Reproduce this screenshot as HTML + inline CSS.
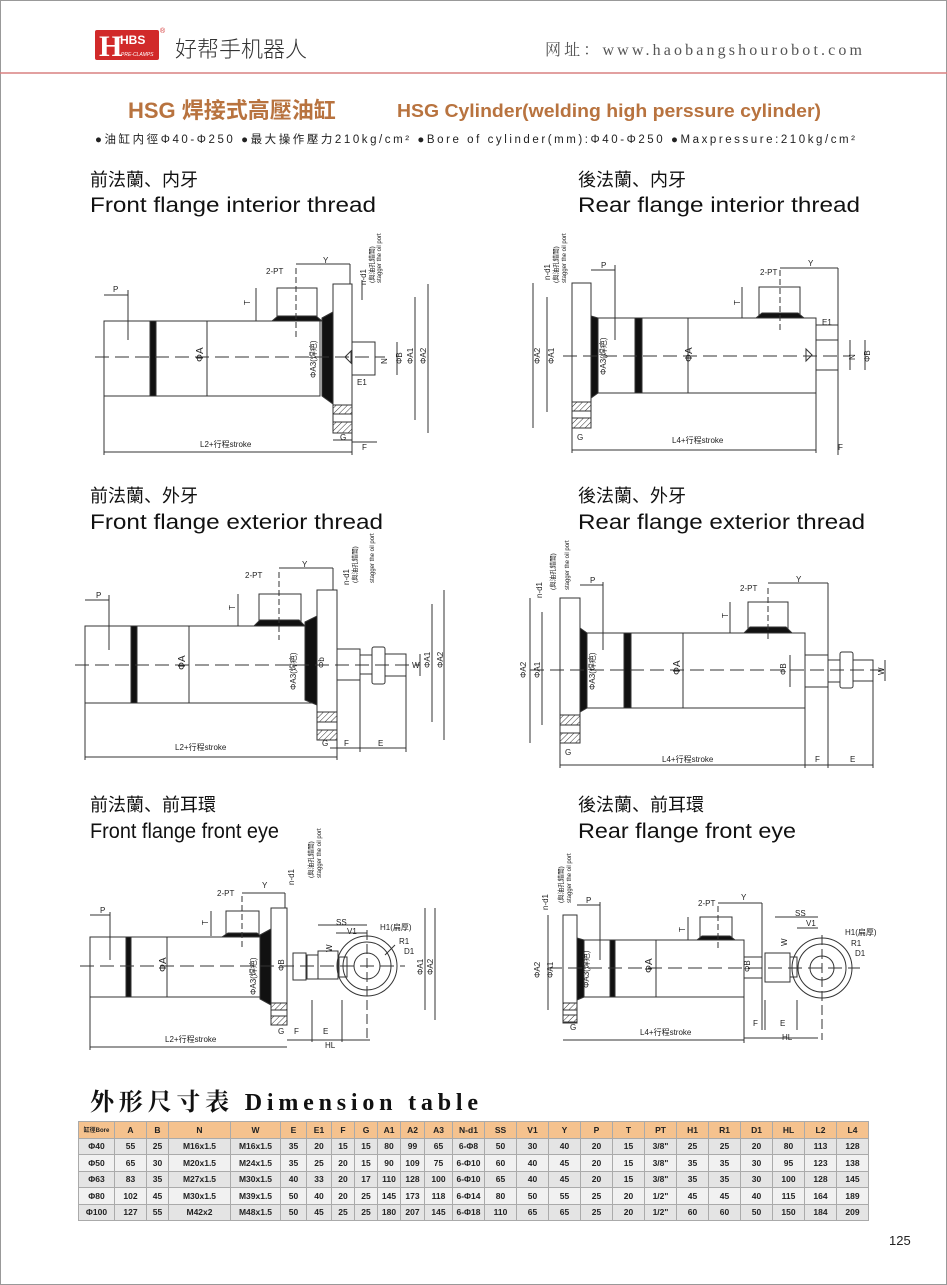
<!DOCTYPE html>
<html><head><meta charset="utf-8"><style>
html,body{margin:0;padding:0;background:#fff;}
body{width:947px;height:1285px;position:relative;overflow:hidden;font-family:"Liberation Sans","Noto Sans CJK SC",sans-serif;}
.frame{position:absolute;left:0;top:0;width:945px;height:1283px;border:1px solid #999;}
svg{position:absolute;left:0;top:0;}
table{position:absolute;left:78px;top:1121px;width:790px;border-collapse:collapse;table-layout:fixed;font-family:"Liberation Sans","Noto Sans CJK SC",sans-serif;font-weight:bold;font-size:8.5px;color:#222;}
td{border:1px solid #aaa;height:15.5px;padding:0;text-align:center;white-space:nowrap;overflow:hidden;}
tr.h td{background:#f5c28e;}
tr.a td{background:#e4e4e4;}
tr.b td{background:#f1f1f1;}
</style></head><body>
<div class="frame"></div>
<svg width="947" height="1285" viewBox="0 0 947 1285" xmlns="http://www.w3.org/2000/svg" font-family="Liberation Sans, Noto Sans CJK SC, sans-serif">
<defs>
<pattern id="ht" width="4" height="4" patternUnits="userSpaceOnUse" patternTransform="rotate(45)"><line x1="0" y1="0" x2="0" y2="4" stroke="#333" stroke-width="1"/></pattern>
</defs>
<!-- header -->
<rect x="95" y="30" width="64" height="30" fill="#d12a2a" rx="2"/>
<text x="99" y="56" font-family="Liberation Serif, serif" font-weight="bold" font-size="30" fill="#fff">H</text>
<text x="120" y="44" font-weight="bold" font-size="12" fill="#fff">HBS</text>
<text x="121" y="56" font-size="5" fill="#fff" font-style="italic">PRE-CLAMPS</text>
<text x="160" y="33" font-size="7" fill="#d12a2a">®</text>
<text x="175" y="57" font-size="22" fill="#333" font-family="Noto Sans CJK SC, sans-serif" font-weight="300">好帮手机器人</text>
<text x="545" y="55" font-size="16" fill="#555" font-family="Liberation Serif, Noto Serif CJK SC, serif" textLength="317" lengthAdjust="spacing">网址：www.haobangshourobot.com</text>
<line x1="0" y1="73" x2="947" y2="73" stroke="#d98080" stroke-width="1.5"/>
<text x="128" y="118" font-size="22" font-weight="bold" fill="#b8733f" font-family="Liberation Sans, Noto Sans CJK SC, sans-serif">HSG 焊接式高壓油缸</text>
<text x="397" y="117" font-size="18" font-weight="bold" fill="#b8733f" textLength="424" lengthAdjust="spacingAndGlyphs">HSG Cylinder(welding high perssure cylinder)</text>
<text x="95" y="143" font-size="11.5" fill="#222" textLength="760" lengthAdjust="spacing">●油缸内徑Φ40-Φ250  ●最大操作壓力210kg/cm²   ●Bore of cylinder(mm):Φ40-Φ250  ●Maxpressure:210kg/cm²</text>
<!-- section titles -->
<g fill="#111">
<text x="90" y="186" font-size="18">前法蘭、内牙</text>
<text x="90" y="212" font-size="21" textLength="286" lengthAdjust="spacingAndGlyphs">Front flange interior thread</text>
<text x="578" y="186" font-size="18">後法蘭、内牙</text>
<text x="578" y="212" font-size="21" textLength="282" lengthAdjust="spacingAndGlyphs">Rear flange interior thread</text>
<text x="90" y="502" font-size="18">前法蘭、外牙</text>
<text x="90" y="529" font-size="21" textLength="293" lengthAdjust="spacingAndGlyphs">Front flange exterior thread</text>
<text x="578" y="502" font-size="18">後法蘭、外牙</text>
<text x="578" y="529" font-size="21" textLength="287" lengthAdjust="spacingAndGlyphs">Rear flange exterior thread</text>
<text x="90" y="811" font-size="18">前法蘭、前耳環</text>
<text x="90" y="838" font-size="21" textLength="189" lengthAdjust="spacingAndGlyphs">Front flange front eye</text>
<text x="578" y="811" font-size="18">後法蘭、前耳環</text>
<text x="578" y="838" font-size="21" textLength="218" lengthAdjust="spacingAndGlyphs">Rear flange front eye</text>
</g>

<g stroke="#333" stroke-width="1" fill="none">
<!-- D1 front interior -->
<rect x="104" y="321" width="216" height="75"/>
<rect x="150" y="321" width="6" height="75" fill="#111"/>
<rect x="277" y="288" width="40" height="33"/>
<polygon points="272,321 322,321 316,316 278,316" fill="#111"/>
<polygon points="322,318 333,312 333,404 322,396" fill="#111"/>
<rect x="333" y="284" width="19" height="149"/>
<rect x="333" y="405" width="19" height="9" fill="url(#ht)"/>
<rect x="333" y="422" width="19" height="11" fill="url(#ht)"/>
<rect x="352" y="342" width="23" height="33"/>
<path d="M345 357 l6 -6 v12z"/>
<line x1="95" y1="357" x2="385" y2="357" stroke-dasharray="14,6"/>
<line x1="104" y1="452" x2="352" y2="452"/><line x1="104" y1="396" x2="104" y2="455"/><line x1="352" y1="433" x2="352" y2="455"/>
<line x1="207" y1="321" x2="207" y2="396"/>
<line x1="397" y1="342" x2="397" y2="375"/><line x1="415" y1="297" x2="415" y2="420"/><line x1="428" y1="284" x2="428" y2="433"/>
<line x1="352" y1="442" x2="377" y2="442"/><line x1="333" y1="440" x2="352" y2="440"/>
<line x1="104" y1="295" x2="128" y2="295"/><line x1="128" y1="290" x2="128" y2="340"/>
<line x1="256" y1="288" x2="256" y2="321"/>
<line x1="296" y1="268" x2="296" y2="340" stroke-dasharray="6,3"/>
<line x1="296" y1="264" x2="350" y2="264"/><line x1="350" y1="264" x2="350" y2="284"/>
<line x1="362" y1="280" x2="362" y2="300"/>
<!-- D2 rear interior -->
<rect x="572" y="283" width="19" height="145"/>
<rect x="572" y="402" width="19" height="9" fill="url(#ht)"/>
<rect x="572" y="418" width="19" height="10" fill="url(#ht)"/>
<polygon points="591,316 598,318 598,393 591,398" fill="#111"/>
<rect x="598" y="318" width="218" height="75"/>
<rect x="635" y="318" width="7" height="75" fill="#111"/>
<rect x="759" y="287" width="41" height="31"/>
<polygon points="756,318 804,318 798,313 762,313" fill="#111"/>
<rect x="816" y="340" width="22" height="30"/>
<path d="M812 355 l-6 -6 v12z"/>
<line x1="563" y1="356" x2="850" y2="356" stroke-dasharray="14,6"/>
<line x1="572" y1="450" x2="816" y2="450"/><line x1="816" y1="393" x2="816" y2="453"/><line x1="572" y1="428" x2="572" y2="453"/>
<line x1="533" y1="283" x2="533" y2="428"/><line x1="547" y1="297" x2="547" y2="412"/>
<line x1="688" y1="318" x2="688" y2="393"/>
<line x1="850" y1="340" x2="850" y2="370"/><line x1="865" y1="340" x2="865" y2="370"/>
<line x1="591" y1="270" x2="615" y2="270"/><line x1="615" y1="265" x2="615" y2="340"/>
<line x1="780" y1="268" x2="838" y2="268"/><line x1="838" y1="268" x2="838" y2="455"/>
<line x1="742" y1="287" x2="742" y2="318"/>
<line x1="780" y1="270" x2="780" y2="330" stroke-dasharray="6,3"/>
<line x1="816" y1="325" x2="838" y2="325"/>
<!-- D3 front exterior -->
<rect x="85" y="626" width="231" height="77"/>
<rect x="131" y="626" width="6" height="77" fill="#111"/>
<rect x="259" y="594" width="42" height="31"/>
<polygon points="254,626 305,626 299,620 260,620" fill="#111"/>
<polygon points="305,622 317,616 317,705 305,700" fill="#111"/>
<rect x="317" y="590" width="20" height="150"/>
<rect x="317" y="712" width="20" height="10" fill="url(#ht)"/>
<rect x="317" y="730" width="20" height="10" fill="url(#ht)"/>
<rect x="337" y="649" width="23" height="31"/>
<line x1="360" y1="655" x2="372" y2="655"/><line x1="360" y1="674" x2="372" y2="674"/>
<rect x="372" y="647" width="13" height="37" rx="2"/>
<rect x="385" y="654" width="21" height="22"/>
<line x1="75" y1="665" x2="420" y2="665" stroke-dasharray="14,6"/>
<line x1="85" y1="757" x2="337" y2="757"/><line x1="85" y1="703" x2="85" y2="760"/><line x1="337" y1="740" x2="337" y2="760"/>
<line x1="189" y1="626" x2="189" y2="703"/>
<line x1="330" y1="748" x2="406" y2="748"/><line x1="406" y1="676" x2="406" y2="752"/><line x1="360" y1="680" x2="360" y2="752"/>
<line x1="420" y1="654" x2="420" y2="676"/><line x1="432" y1="604" x2="432" y2="722"/><line x1="444" y1="590" x2="444" y2="740"/>
<line x1="85" y1="600" x2="109" y2="600"/><line x1="109" y1="595" x2="109" y2="650"/>
<line x1="238" y1="594" x2="238" y2="626"/>
<line x1="279" y1="568" x2="333" y2="568"/><line x1="333" y1="568" x2="333" y2="590"/>
<line x1="279" y1="572" x2="279" y2="640" stroke-dasharray="6,3"/>
<!-- D4 rear exterior -->
<rect x="560" y="598" width="20" height="145"/>
<rect x="560" y="715" width="20" height="10" fill="url(#ht)"/>
<rect x="560" y="733" width="20" height="10" fill="url(#ht)"/>
<polygon points="580,628 587,633 587,708 580,712" fill="#111"/>
<rect x="587" y="633" width="218" height="75"/>
<rect x="624" y="633" width="7" height="75" fill="#111"/>
<rect x="748" y="602" width="40" height="31"/>
<polygon points="744,633 792,633 786,627 750,627" fill="#111"/>
<rect x="805" y="655" width="23" height="32"/>
<line x1="828" y1="660" x2="840" y2="660"/><line x1="828" y1="682" x2="840" y2="682"/>
<rect x="840" y="652" width="13" height="36" rx="2"/>
<rect x="853" y="660" width="20" height="21"/>
<line x1="530" y1="670" x2="885" y2="670" stroke-dasharray="14,6"/>
<line x1="560" y1="765" x2="805" y2="765"/><line x1="805" y1="708" x2="805" y2="768"/><line x1="560" y1="743" x2="560" y2="768"/>
<line x1="805" y1="765" x2="873" y2="765"/><line x1="828" y1="687" x2="828" y2="768"/><line x1="873" y1="681" x2="873" y2="768"/>
<line x1="530" y1="598" x2="530" y2="743"/><line x1="542" y1="612" x2="542" y2="725"/>
<line x1="683" y1="633" x2="683" y2="708"/><line x1="790" y1="655" x2="790" y2="687"/>
<line x1="885" y1="660" x2="885" y2="681"/>
<line x1="580" y1="585" x2="603" y2="585"/><line x1="603" y1="582" x2="603" y2="650"/>
<line x1="768" y1="583" x2="828" y2="583"/><line x1="828" y1="583" x2="828" y2="660"/>
<line x1="730" y1="602" x2="730" y2="633"/>
<line x1="768" y1="588" x2="768" y2="640" stroke-dasharray="6,3"/>
<!-- D5 front eye -->
<rect x="90" y="937" width="170" height="60"/>
<rect x="126" y="937" width="5" height="60" fill="#111"/>
<rect x="226" y="911" width="33" height="25"/>
<polygon points="222,937 262,937 257,933 228,933" fill="#111"/>
<polygon points="260,935 271,929 271,1005 260,999" fill="#111"/>
<rect x="271" y="908" width="16" height="117"/>
<rect x="271" y="1003" width="16" height="7" fill="url(#ht)"/>
<rect x="271" y="1016" width="16" height="9" fill="url(#ht)"/>
<rect x="293" y="953" width="13" height="27"/>
<rect x="307" y="955" width="11" height="24"/>
<rect x="318" y="951" width="20" height="28"/>
<rect x="339" y="957" width="8" height="20"/>
<circle cx="367" cy="966" r="30"/><circle cx="367" cy="966" r="24"/><circle cx="367" cy="966" r="13"/>
<line x1="80" y1="966" x2="405" y2="966" stroke-dasharray="14,6"/>
<line x1="367" y1="930" x2="367" y2="1040" stroke-dasharray="10,4"/>
<line x1="90" y1="1047" x2="287" y2="1047"/><line x1="90" y1="997" x2="90" y2="1050"/>
<line x1="287" y1="1040" x2="370" y2="1040"/><line x1="312" y1="1000" x2="312" y2="1042"/><line x1="342" y1="1000" x2="342" y2="1042"/>
<line x1="167" y1="937" x2="167" y2="997"/>
<line x1="425" y1="908" x2="425" y2="1010"/><line x1="435" y1="908" x2="435" y2="1020"/>
<line x1="318" y1="925" x2="367" y2="925"/><line x1="336" y1="933" x2="367" y2="933"/>
<line x1="90" y1="915" x2="110" y2="915"/><line x1="110" y1="912" x2="110" y2="960"/>
<line x1="211" y1="911" x2="211" y2="936"/>
<line x1="242" y1="893" x2="285" y2="893"/><line x1="285" y1="893" x2="285" y2="908"/>
<line x1="242" y1="896" x2="242" y2="950" stroke-dasharray="6,3"/>
<line x1="395" y1="945" x2="385" y2="955"/>
<!-- D6 rear eye -->
<rect x="563" y="915" width="14" height="107"/>
<rect x="563" y="1003" width="14" height="7" fill="url(#ht)"/>
<rect x="563" y="1015" width="14" height="8" fill="url(#ht)"/>
<polygon points="577,938 584,940 584,997 577,1000" fill="#111"/>
<rect x="584" y="940" width="160" height="57"/>
<rect x="610" y="940" width="5" height="57" fill="#111"/>
<rect x="700" y="917" width="32" height="23"/>
<polygon points="697,940 735,940 730,936 702,936" fill="#111"/>
<rect x="744" y="957" width="18" height="21"/>
<rect x="765" y="953" width="25" height="29"/>
<rect x="790" y="957" width="7" height="20"/>
<circle cx="822" cy="968" r="30"/><circle cx="822" cy="968" r="24"/><circle cx="822" cy="968" r="12"/>
<line x1="548" y1="968" x2="860" y2="968" stroke-dasharray="14,6"/>
<line x1="822" y1="935" x2="822" y2="1040" stroke-dasharray="10,4"/>
<line x1="563" y1="1040" x2="744" y2="1040"/><line x1="744" y1="997" x2="744" y2="1043"/>
<line x1="744" y1="1038" x2="818" y2="1038"/><line x1="765" y1="1000" x2="765" y2="1030"/><line x1="797" y1="1000" x2="797" y2="1030"/>
<line x1="548" y1="915" x2="548" y2="1010"/>
<line x1="656" y1="940" x2="656" y2="997"/>
<line x1="775" y1="917" x2="818" y2="917"/><line x1="797" y1="928" x2="818" y2="928"/>
<line x1="577" y1="905" x2="600" y2="905"/><line x1="600" y1="902" x2="600" y2="960"/>
<line x1="718" y1="903" x2="762" y2="903"/><line x1="762" y1="903" x2="762" y2="1030"/>
<line x1="688" y1="917" x2="688" y2="940"/>
<line x1="718" y1="906" x2="718" y2="950" stroke-dasharray="6,3"/>
</g>

<g font-size="8" fill="#222">
<!-- D1 labels -->
<text x="113" y="292">P</text><text x="250" y="305" transform="rotate(-90 250 305)">T</text>
<text x="266" y="274">2-PT</text><text x="323" y="263">Y</text>
<text x="203" y="362" font-size="10" transform="rotate(-90 203 362)">ΦA</text>
<text x="316" y="378" transform="rotate(-90 316 378)">ΦA3(焊疤)</text>
<text x="387" y="364" transform="rotate(-90 387 364)">N</text><text x="402" y="364" transform="rotate(-90 402 364)">ΦB</text>
<text x="413" y="364" transform="rotate(-90 413 364)">ΦA1</text><text x="426" y="364" transform="rotate(-90 426 364)">ΦA2</text>
<text x="357" y="385">E1</text><text x="340" y="440">G</text><text x="362" y="450">F</text>
<text x="200" y="447">L2+行程stroke</text>
<text x="366" y="285" transform="rotate(-90 366 285)">n-d1</text>
<text x="374" y="283" font-size="6.5" transform="rotate(-90 374 283)">(與油孔錯開)</text>
<text x="381" y="283" font-size="6" transform="rotate(-90 381 283)">stagger the oil port</text>
<!-- D2 -->
<text x="601" y="268">P</text><text x="740" y="305" transform="rotate(-90 740 305)">T</text>
<text x="760" y="275">2-PT</text><text x="808" y="266">Y</text><text x="822" y="325">E1</text>
<text x="540" y="364" transform="rotate(-90 540 364)">ΦA2</text><text x="554" y="364" transform="rotate(-90 554 364)">ΦA1</text>
<text x="606" y="375" transform="rotate(-90 606 375)">ΦA3(焊疤)</text>
<text x="692" y="362" font-size="10" transform="rotate(-90 692 362)">ΦA</text>
<text x="855" y="360" transform="rotate(-90 855 360)">N</text><text x="870" y="362" transform="rotate(-90 870 362)">ΦB</text>
<text x="577" y="440">G</text><text x="838" y="450">F</text><text x="672" y="443">L4+行程stroke</text>
<text x="550" y="280" transform="rotate(-90 550 280)">n-d1</text>
<text x="558" y="283" font-size="6.5" transform="rotate(-90 558 283)">(與油孔錯開)</text>
<text x="566" y="283" font-size="6" transform="rotate(-90 566 283)">stagger the oil port</text>
<!-- D3 -->
<text x="96" y="598">P</text><text x="235" y="610" transform="rotate(-90 235 610)">T</text>
<text x="245" y="578">2-PT</text><text x="302" y="567">Y</text>
<text x="185" y="670" font-size="10" transform="rotate(-90 185 670)">ΦA</text>
<text x="296" y="690" transform="rotate(-90 296 690)">ΦA3(焊疤)</text>
<text x="324" y="668" transform="rotate(-90 324 668)">Φb</text>
<text x="412" y="668">W</text><text x="430" y="668" transform="rotate(-90 430 668)">ΦA1</text><text x="443" y="668" transform="rotate(-90 443 668)">ΦA2</text>
<text x="322" y="746">G</text><text x="344" y="746">F</text><text x="378" y="746">E</text>
<text x="175" y="750">L2+行程stroke</text>
<text x="349" y="585" transform="rotate(-90 349 585)">n-d1</text>
<text x="357" y="583" font-size="6.5" transform="rotate(-90 357 583)">(與油孔錯開)</text>
<text x="374" y="583" font-size="6" transform="rotate(-90 374 583)">stagger the oil port</text>
<!-- D4 -->
<text x="590" y="583">P</text><text x="728" y="618" transform="rotate(-90 728 618)">T</text>
<text x="740" y="591">2-PT</text><text x="796" y="582">Y</text>
<text x="526" y="678" transform="rotate(-90 526 678)">ΦA2</text><text x="540" y="678" transform="rotate(-90 540 678)">ΦA1</text>
<text x="595" y="690" transform="rotate(-90 595 690)">ΦA3(焊疤)</text>
<text x="680" y="675" font-size="10" transform="rotate(-90 680 675)">ΦA</text>
<text x="786" y="675" transform="rotate(-90 786 675)">ΦB</text><text x="884" y="675" transform="rotate(-90 884 675)">W</text>
<text x="565" y="755">G</text><text x="815" y="762">F</text><text x="850" y="762">E</text>
<text x="662" y="762">L4+行程stroke</text>
<text x="542" y="598" transform="rotate(-90 542 598)">n-d1</text>
<text x="555" y="590" font-size="6.5" transform="rotate(-90 555 590)">(與油孔錯開)</text>
<text x="569" y="590" font-size="6" transform="rotate(-90 569 590)">stagger the oil port</text>
<!-- D5 -->
<text x="100" y="913">P</text><text x="208" y="925" transform="rotate(-90 208 925)">T</text>
<text x="217" y="896">2-PT</text><text x="262" y="888">Y</text>
<text x="166" y="972" font-size="10" transform="rotate(-90 166 972)">ΦA</text>
<text x="256" y="995" transform="rotate(-90 256 995)">ΦA3(焊疤)</text>
<text x="284" y="971" transform="rotate(-90 284 971)">ΦB</text>
<text x="332" y="952" transform="rotate(-90 332 952)">W</text>
<text x="336" y="925">SS</text><text x="347" y="934">V1</text>
<text x="380" y="930">H1(扁厚)</text><text x="399" y="944">R1</text><text x="404" y="954">D1</text>
<text x="423" y="975" transform="rotate(-90 423 975)">ΦA1</text><text x="433" y="975" transform="rotate(-90 433 975)">ΦA2</text>
<text x="278" y="1034">G</text><text x="294" y="1034">F</text><text x="323" y="1034">E</text><text x="325" y="1048">HL</text>
<text x="165" y="1042">L2+行程stroke</text>
<text x="294" y="885" transform="rotate(-90 294 885)">n-d1</text>
<text x="313" y="878" font-size="6.5" transform="rotate(-90 313 878)">(與油孔錯開)</text>
<text x="321" y="878" font-size="6" transform="rotate(-90 321 878)">stagger the oil port</text>
<!-- D6 -->
<text x="586" y="903">P</text><text x="685" y="932" transform="rotate(-90 685 932)">T</text>
<text x="698" y="906">2-PT</text><text x="741" y="900">Y</text>
<text x="553" y="978" transform="rotate(-90 553 978)">ΦA1</text><text x="540" y="978" transform="rotate(-90 540 978)">ΦA2</text>
<text x="589" y="988" transform="rotate(-90 589 988)">ΦA3(焊疤)</text>
<text x="652" y="973" font-size="10" transform="rotate(-90 652 973)">ΦA</text>
<text x="750" y="972" transform="rotate(-90 750 972)">ΦB</text>
<text x="787" y="946" transform="rotate(-90 787 946)">W</text>
<text x="795" y="916">SS</text><text x="806" y="926">V1</text>
<text x="845" y="935">H1(扁厚)</text><text x="851" y="946">R1</text><text x="855" y="956">D1</text>
<text x="570" y="1030">G</text><text x="753" y="1026">F</text><text x="780" y="1026">E</text><text x="782" y="1040">HL</text>
<text x="640" y="1035">L4+行程stroke</text>
<text x="548" y="910" transform="rotate(-90 548 910)">n-d1</text>
<text x="563" y="903" font-size="6.5" transform="rotate(-90 563 903)">(與油孔錯開)</text>
<text x="571" y="903" font-size="6" transform="rotate(-90 571 903)">stagger the oil port</text>
</g>

<text x="90" y="1110" font-size="24" font-weight="bold" fill="#111" font-family="Liberation Serif, Noto Serif CJK SC, serif" textLength="388" lengthAdjust="spacing">外形尺寸表  Dimension table</text>
<text x="889" y="1245" font-size="13" fill="#222">125</text>
</svg>

<table>
<colgroup><col style="width:36px"><col style="width:32px"><col style="width:22px"><col style="width:62px"><col style="width:50px"><col style="width:26px"><col style="width:25px"><col style="width:23px"><col style="width:23px"><col style="width:23px"><col style="width:24px"><col style="width:28px"><col style="width:32px"><col style="width:32px"><col style="width:32px"><col style="width:32px"><col style="width:32px"><col style="width:32px"><col style="width:32px"><col style="width:32px"><col style="width:32px"><col style="width:32px"><col style="width:32px"><col style="width:32px"><col style="width:32px"></colgroup>
<tr class="h"><td style="font-size:6px">缸徑Bore</td><td>A</td><td>B</td><td>N</td><td>W</td><td>E</td><td>E1</td><td>F</td><td>G</td><td>A1</td><td>A2</td><td>A3</td><td>N-d1</td><td>SS</td><td>V1</td><td>Y</td><td>P</td><td>T</td><td>PT</td><td>H1</td><td>R1</td><td>D1</td><td>HL</td><td>L2</td><td>L4</td></tr>
<tr class="a"><td>Φ40</td><td>55</td><td>25</td><td>M16x1.5</td><td>M16x1.5</td><td>35</td><td>20</td><td>15</td><td>15</td><td>80</td><td>99</td><td>65</td><td>6-Φ8</td><td>50</td><td>30</td><td>40</td><td>20</td><td>15</td><td>3/8"</td><td>25</td><td>25</td><td>20</td><td>80</td><td>113</td><td>128</td></tr>
<tr class="b"><td>Φ50</td><td>65</td><td>30</td><td>M20x1.5</td><td>M24x1.5</td><td>35</td><td>25</td><td>20</td><td>15</td><td>90</td><td>109</td><td>75</td><td>6-Φ10</td><td>60</td><td>40</td><td>45</td><td>20</td><td>15</td><td>3/8"</td><td>35</td><td>35</td><td>30</td><td>95</td><td>123</td><td>138</td></tr>
<tr class="a"><td>Φ63</td><td>83</td><td>35</td><td>M27x1.5</td><td>M30x1.5</td><td>40</td><td>33</td><td>20</td><td>17</td><td>110</td><td>128</td><td>100</td><td>6-Φ10</td><td>65</td><td>40</td><td>45</td><td>20</td><td>15</td><td>3/8"</td><td>35</td><td>35</td><td>30</td><td>100</td><td>128</td><td>145</td></tr>
<tr class="b"><td>Φ80</td><td>102</td><td>45</td><td>M30x1.5</td><td>M39x1.5</td><td>50</td><td>40</td><td>20</td><td>25</td><td>145</td><td>173</td><td>118</td><td>6-Φ14</td><td>80</td><td>50</td><td>55</td><td>25</td><td>20</td><td>1/2"</td><td>45</td><td>45</td><td>40</td><td>115</td><td>164</td><td>189</td></tr>
<tr class="a"><td>Φ100</td><td>127</td><td>55</td><td>M42x2</td><td>M48x1.5</td><td>50</td><td>45</td><td>25</td><td>25</td><td>180</td><td>207</td><td>145</td><td>6-Φ18</td><td>110</td><td>65</td><td>65</td><td>25</td><td>20</td><td>1/2"</td><td>60</td><td>60</td><td>50</td><td>150</td><td>184</td><td>209</td></tr>
</table>
</body></html>
